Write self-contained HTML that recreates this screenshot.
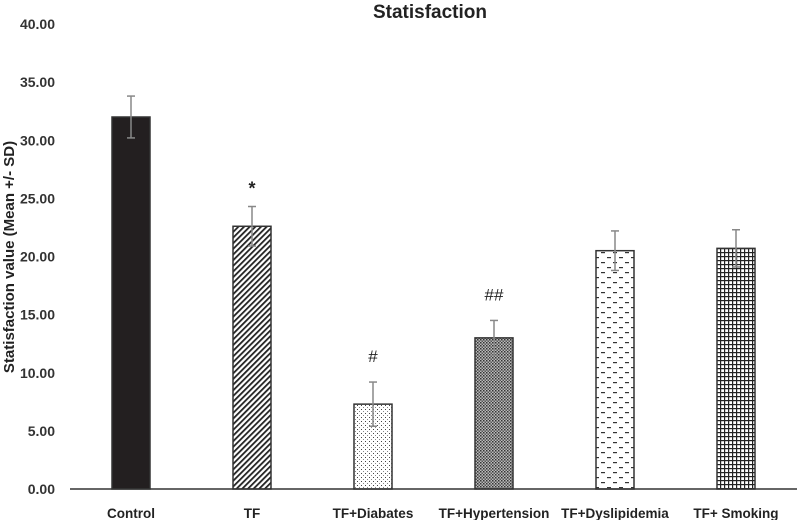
<!DOCTYPE html>
<html><head><meta charset="utf-8"><style>
body{margin:0;background:#fff;}
svg{display:block;font-family:"Liberation Sans",Arial,sans-serif;}
</style></head><body>
<svg id="chart" width="797" height="520" viewBox="0 0 797 520" xmlns="http://www.w3.org/2000/svg">
<defs>
<pattern id="p-diag" patternUnits="userSpaceOnUse" width="4" height="4" patternTransform="rotate(45)"><rect width="4" height="4" fill="#fff"/><rect width="1.8" height="4" fill="#222"/></pattern>
<pattern id="p-dots" patternUnits="userSpaceOnUse" width="4" height="4"><rect width="4" height="4" fill="#fff"/><rect x="1" y="1" width="1" height="1" fill="#444"/><rect x="3" y="3" width="1" height="1" fill="#888"/></pattern>
<pattern id="p-dense" patternUnits="userSpaceOnUse" width="3" height="3"><rect width="3" height="3" fill="#bbb"/><rect width="1.5" height="1.5" fill="#333"/><rect x="1.5" y="1.5" width="1.5" height="1.5" fill="#555"/></pattern>
<pattern id="p-dash" patternUnits="userSpaceOnUse" width="12" height="10"><rect width="12" height="10" fill="#fff"/><rect x="1" y="2" width="4" height="1.2" fill="#333"/><rect x="7" y="7" width="4" height="1.2" fill="#333"/></pattern>
<pattern id="p-grid" patternUnits="userSpaceOnUse" width="4" height="4"><rect width="4" height="4" fill="#fff"/><rect width="1.2" height="4" fill="#222"/><rect width="4" height="1.2" fill="#222"/></pattern>
</defs>
<text x="430" y="18" text-anchor="middle" font-size="19" font-weight="bold" fill="#222">Statisfaction</text>
<text transform="translate(14,257) rotate(-90)" text-anchor="middle" font-size="15" font-weight="bold" fill="#222">Statisfaction value (Mean +/- SD)</text>
<g id="yticks"></g>
<g id="bars"></g>
<line x1="70" y1="489" x2="797" y2="489" stroke="#333" stroke-width="1.5"/>
<g id="xlabels"></g>
</svg>
<script>
const categories=["Control","TF","TF+Diabates","TF+Hypertension","TF+Dyslipidemia","TF+ Smoking"];
const means=[32.0,22.6,7.3,13.0,20.5,20.7];
const sds=[1.8,1.7,1.9,1.5,1.7,1.6];
const marks=["","*","#","##","",""];
const fills=["#231f20","url(#p-diag)","url(#p-dots)","url(#p-dense)","url(#p-dash)","url(#p-grid)"];
const yTicks=[0,5,10,15,20,25,30,35,40];
const ns="http://www.w3.org/2000/svg";
const y=v=>489-v*(465/40);
const x=i=>131+i*121;
const bw=38;
function mk(t,a,p){const e=document.createElementNS(ns,t);for(const k in a)e.setAttribute(k,a[k]);p.appendChild(e);return e;}
const yt=document.getElementById('yticks');
yTicks.forEach(v=>{const t=mk('text',{x:55,y:y(v)+5,'text-anchor':'end','font-size':14,'font-weight':'bold',fill:'#333'},yt);t.textContent=v.toFixed(2);

});
const bg=document.getElementById('bars');
categories.forEach((c,i)=>{
const r=mk('rect',{x:x(i)-bw/2,y:y(means[i]),width:bw,height:y(0)-y(means[i]),fill:fills[i],stroke:'#333','stroke-width':1.5},bg);


const g=mk('g',{stroke:'#888','stroke-width':1.5},bg);


mk('line',{x1:x(i),x2:x(i),y1:y(means[i]+sds[i]),y2:y(means[i]-sds[i])},g);
mk('line',{x1:x(i)-4,x2:x(i)+4,y1:y(means[i]+sds[i]),y2:y(means[i]+sds[i])},g);
mk('line',{x1:x(i)-4,x2:x(i)+4,y1:y(means[i]-sds[i]),y2:y(means[i]-sds[i])},g);
if(marks[i]){const t=mk('text',{x:x(i),y:y(means[i]+sds[i])-(marks[i]=='*'?12:20),'text-anchor':'middle','font-size':marks[i]=='*'?18:17,'font-weight':marks[i]=='*'?'bold':'normal',fill:'#222'},bg);t.textContent=marks[i];

}
const l=mk('text',{x:x(i),y:518,'text-anchor':'middle','font-size':13.5,'font-weight':'bold',fill:'#222'},document.getElementById('xlabels'));
l.textContent=c;


});
</script>
</body></html>
